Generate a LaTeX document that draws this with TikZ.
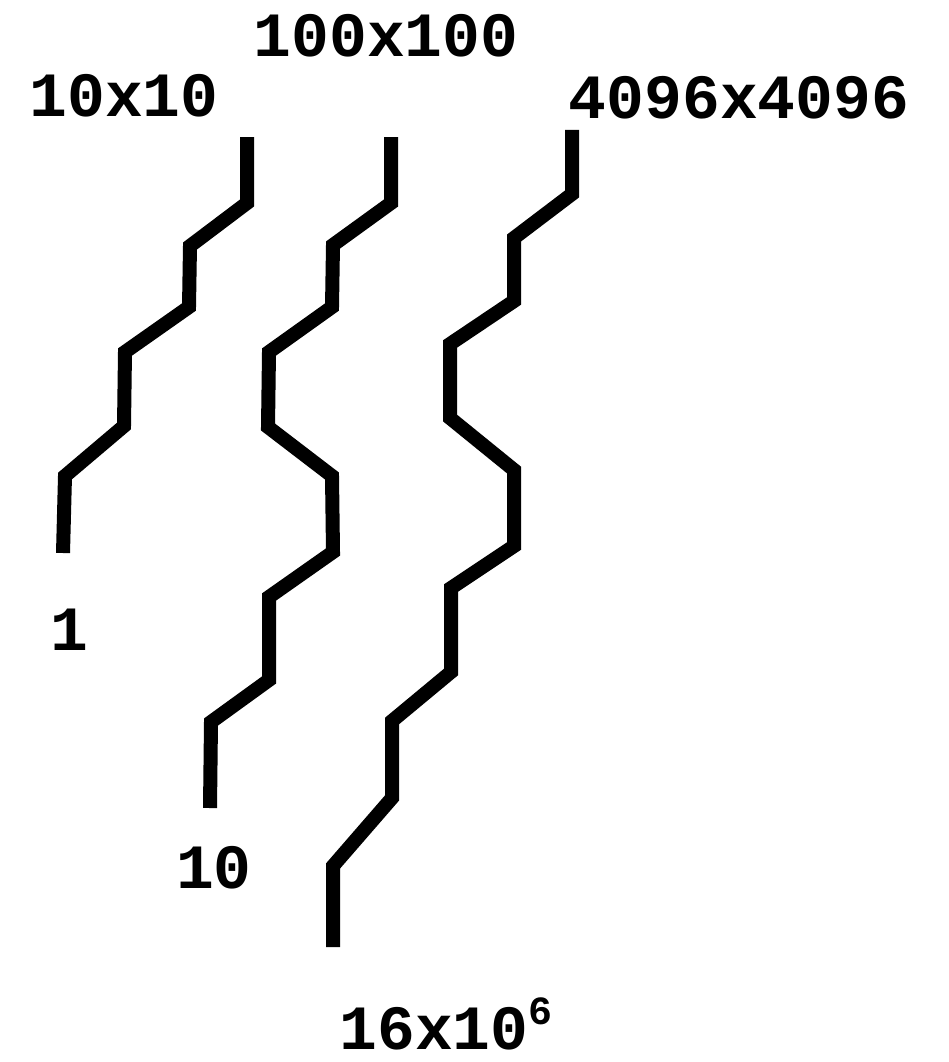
\documentclass[tikz,border=0pt]{standalone}
\usepackage{fontspec}
\setmainfont{Liberation Mono}
\begin{document}
\begin{tikzpicture}[x=1pt,y=-1pt,
  wire/.style={line width=14pt,line cap=butt,line join=miter},
  lbl/.style={anchor=base,inner sep=0pt,font=\fontsize{63}{70}\selectfont\bfseries}]
\useasboundingbox (0,0) rectangle (949,1062);

% labels at the top (grid sizes)
\node[lbl] (t1) at (124,117) {10x10};
\node[lbl] (t2) at (386,57) {100x100};
\node[lbl] (t3) at (739,118) {4096x4096};

% labels at the bottom (counts)
\node[lbl] (b1) at (69,650) {1};
\node[lbl] (b2) at (214,888) {10};
\node[lbl] (b3) at (446,1049) {16x10\raisebox{25pt}{\fontsize{40}{40}\selectfont 6}};

% first zigzag
\draw[wire] (247,137) -- (247,203) -- (190,246) -- (189,307) -- (125,352)
  -- (124,426) -- (65,476) -- (63,553);

% second zigzag
\draw[wire] (391,137) -- (391,203) -- (333,245) -- (332,307) -- (269,352)
  -- (268,427) -- (332,476) -- (333,552) -- (269,597) -- (269,680)
  -- (211,722) -- (210,808);

% third zigzag
\draw[wire] (572,130) -- (572,194) -- (514,238) -- (514,301) -- (450,344)
  -- (450,418) -- (514,470) -- (514,546) -- (451,588) -- (451,672)
  -- (392,721) -- (392,798) -- (333,866) -- (333,947);
\end{tikzpicture}
\end{document}
